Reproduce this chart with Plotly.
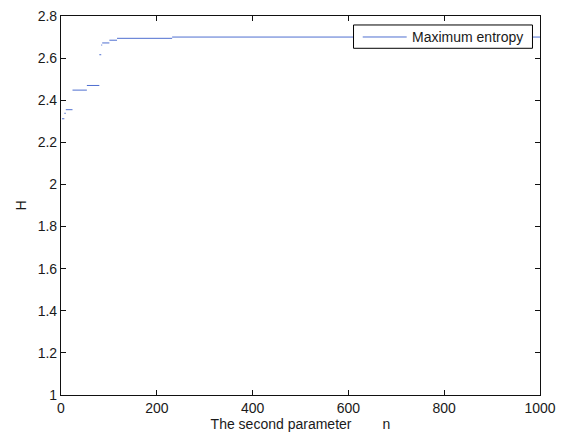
import plotly.graph_objects as go

# Step segments of the maximum-entropy curve (n range and H value)
seg_start = [2, 7, 10, 24, 54, 80, 84, 86, 101, 117, 232]
seg_end = [7, 10, 24, 54, 80, 84, 86, 101, 117, 232, 1000]
h_values = [2.312, 2.338, 2.355, 2.448, 2.470, 2.616, 2.662, 2.672, 2.685, 2.694, 2.700]
series_name = "Maximum entropy"

x_ticks = [0, 200, 400, 600, 800, 1000]
y_ticks = [1, 1.2, 1.4, 1.6, 1.8, 2, 2.2, 2.4, 2.6, 2.8]

xs, ys = [], []
for a, b, h in zip(seg_start, seg_end, h_values):
    xs += [a, b, None]
    ys += [h, h, None]

line_color = "#4f6fd0"
fig = go.Figure()
fig.add_trace(go.Scatter(
    x=xs, y=ys, mode="lines", name=series_name,
    line=dict(color=line_color, width=1), connectgaps=False, showlegend=False,
))

font = dict(family="Liberation Sans, Arial, sans-serif", size=14, color="#1a1a1a")
axis_common = dict(
    showgrid=False, zeroline=False, showline=True, linecolor="#111111", linewidth=1.2,
    mirror="ticks", ticks="inside", ticklen=5, tickcolor="#111111", tickfont=font,
    automargin=False,
)

# MATLAB-style legend box (paper coordinates)
fig.add_shape(type="rect", xref="paper", yref="paper",
              x0=0.6107, x1=0.9843, y0=0.9148, y1=0.9763,
              line=dict(color="black", width=1), fillcolor="white", layer="above")
fig.add_shape(type="line", xref="paper", yref="paper",
              x0=0.6299, x1=0.7217, y0=0.9446, y1=0.9446,
              line=dict(color=line_color, width=1), layer="above")
fig.add_annotation(text=series_name, xref="paper", yref="paper",
                   x=0.7307, y=0.9446, xanchor="left", yanchor="middle",
                   showarrow=False, font=font, xshift=-1)

fig.update_layout(
    width=563, height=435,
    margin=dict(l=61, r=23, t=16, b=40),
    paper_bgcolor="white", plot_bgcolor="white",
    font=font,
    showlegend=False,
    xaxis=dict(range=[0, 1000], tickvals=x_ticks, **axis_common,
               title=dict(text="The second parameter" + "\u00a0" * 8 + "n", font=font, standoff=2)),
    yaxis=dict(range=[1, 2.8], tickvals=y_ticks, **axis_common,
               title=dict(text="H", font=font, standoff=7)),
)
fig.write_html(
    "out.html",
    config={"displayModeBar": False},
    post_script="document.body.style.margin='0';document.body.style.padding='0';document.documentElement.style.overflow='hidden';",
)
